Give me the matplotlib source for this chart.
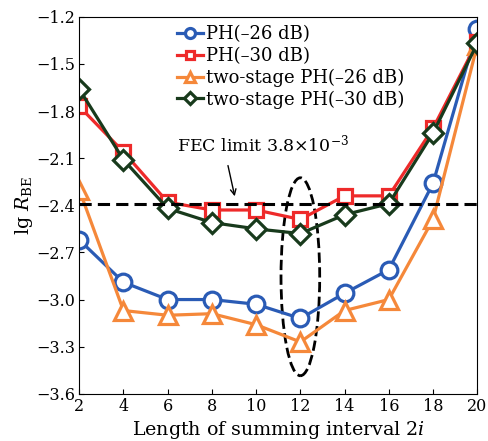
import matplotlib.pyplot as plt
from matplotlib.patches import Ellipse

plt.rcParams['font.family'] = 'DejaVu Serif'
plt.rcParams['mathtext.fontset'] = 'dejavuserif'

# summing interval lengths
x = [2, 4, 6, 8, 10, 12, 14, 16, 18, 20]

# lg BER values
ph26 = [-2.62, -2.89, -3.00, -3.00, -3.03, -3.12, -2.96, -2.81, -2.26, -1.28]
ph30 = [-1.77, -2.06, -2.38, -2.43, -2.43, -2.49, -2.34, -2.34, -1.91, -1.36]
ts26 = [-2.30, -3.07, -3.10, -3.09, -3.16, -3.27, -3.07, -3.00, -2.49, -1.38]
ts30 = [-1.66, -2.11, -2.42, -2.51, -2.55, -2.58, -2.46, -2.39, -1.94, -1.37]
fec_limit = -2.39

fig = plt.figure(figsize=(4.89, 4.41), dpi=100)
ax = fig.add_axes([0.162, 0.107, 0.814, 0.855])

ax.plot(x, ph26, '-o', color='#2a5bb5', lw=2.3, ms=12, mew=2.3, mfc='white',
        label='PH(\u201326 dB)')
ax.plot(x, ph30, '-s', color='#ee2a2a', lw=2.3, ms=10.5, mew=2.3, mfc='white',
        label='PH(\u201330 dB)')
ax.plot(x, ts26, '-^', color='#f5883a', lw=2.3, ms=13, mew=2.3, mfc='white',
        label='two-stage PH(\u201326 dB)')
ax.plot(x, ts30, '-D', color='#183a1c', lw=2.3, ms=10.5, mew=2.3, mfc='white',
        label='two-stage PH(\u201330 dB)')

ax.axhline(fec_limit, color='black', ls='--', lw=2.2, dashes=(4, 2))
ax.add_patch(Ellipse((12, -2.855), 1.75, 1.26, fill=False, ls='--', lw=2,
                     ec='black'))
ax.annotate('', xy=(9.06, -2.36), xytext=(8.7, -2.13),
            arrowprops=dict(arrowstyle='->', color='black', lw=1))
ax.text(6.4, -2.015, r'FEC limit 3.8$\times$10$^{-3}$', fontsize=12.5, va='center')

ax.set_xlim(2, 20)
ax.set_ylim(-3.6, -1.2)
ax.set_xticks(x)
ax.set_yticks([-3.6, -3.3, -3.0, -2.7, -2.4, -2.1, -1.8, -1.5, -1.2])
ax.set_yticklabels(['\u22123.6', '\u22123.3', '\u22123.0', '\u22122.7', '\u22122.4',
                    '\u22122.1', '\u22121.8', '\u22121.5', '\u22121.2'])
ax.tick_params(direction='in', labelsize=11.5, pad=3)
ax.set_xlabel(r'Length of summing interval 2$i$', fontsize=13.7, labelpad=3)
ax.set_ylabel(r'lg $R_{\rm BE}$', fontsize=13.7, labelpad=1)

ax.legend(loc='upper left', bbox_to_anchor=(0.246, 0.977), frameon=False,
          fontsize=13, handlelength=1.45, handletextpad=0.15, labelspacing=0.2,
          borderaxespad=0, borderpad=0, markerscale=0.6)

fig.savefig('out.png', dpi=100)
